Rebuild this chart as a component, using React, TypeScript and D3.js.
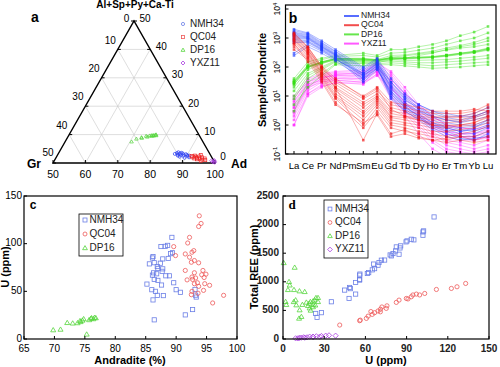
import React from "react";
import * as d3 from "d3";

const FONT = "'Liberation Sans', Arial, Helvetica, sans-serif";

// ---------- Panel a: ternary (Ad %, Al+Sp+Py+Ca-Ti %) ----------
const TERN_NMH34: [number, number][] = [
  [86, 3.2], [86.5, 3.5], [87, 3], [87.5, 3.3], [88, 2.8], [88.3, 3.4], [88.8, 3], [89, 2.5], [89.5, 3.1],
  [90, 2.8], [90.3, 2.4], [90.8, 2.6], [91, 2], [88, 2.2], [87.2, 2.6], [89.7, 1.8], [86.8, 3.8], [87.8, 3.6],
];
const TERN_QC04: [number, number][] = [
  [91.5, 2.5], [92, 2], [92.5, 2.6], [93, 2.2], [93.5, 1.8], [94, 2.3], [94.5, 1.5], [95, 2], [95.5, 1.2],
  [96, 1.6], [96.5, 1], [93.8, 1.3], [92.8, 1.6], [94.2, 2.8], [95.2, 0.8],
];
const TERN_DP16: [number, number][] = [
  [70.5, 7.5], [71.5, 8.5], [72.8, 9], [74, 9.5], [75, 9.6], [75.5, 9.7], [76, 9.8], [76.3, 9.6], [76.6, 9.9],
  [77, 9.7], [76.8, 10], [75.8, 9.5], [74.5, 9.2], [73, 8.8],
];
const TERN_YXZ11: [number, number][] = [
  [98.5, 0.8], [99, 0.5], [99.3, 0.3], [99.6, 0.6], [99.8, 0.2], [99.2, 1],
];
const TERN_BOTTOM_TICKS = [50, 60, 70, 80, 90, 100];
const TERN_SIDE_TICKS = [0, 10, 20, 30, 40, 50];

// ---------- Panel b: REE patterns (sample/chondrite) ----------
const REE = ["La", "Ce", "Pr", "Nd", "Pm", "Sm", "Eu", "Gd", "Tb", "Dy", "Ho", "Er", "Tm", "Yb", "Lu"];
type Row = (number | null)[];
const REE_NMH34: Row[] = [
  [2000, 1500, 800, 400, null, 100, 200, 40, 12, 5, 3, 2, 2, 2, 3],
  [1800, 1400, 700, 350, null, 90, 180, 30, 9, 4, 2, 1.5, 1.2, 1.5, 2],
  [1600, 1300, 650, 330, null, 80, 160, 25, 8, 3.5, 1.8, 1.2, 1, 1, 1.5],
  [1500, 1200, 600, 300, null, 70, 150, 20, 6, 3, 1.5, 1, 0.8, 0.9, 1.2],
  [1400, 1100, 560, 280, null, 60, 140, 18, 5, 2.5, 1.2, 0.8, 0.6, 0.7, 1],
  [1300, 1050, 520, 270, null, 55, 130, 15, 4.5, 2, 1, 0.7, 0.5, 0.5, 0.8],
  [1200, 1000, 500, 260, null, 50, 120, 12, 4, 2, 0.9, 0.6, 0.4, 0.4, 0.6],
  [1100, 950, 480, 250, null, 45, 110, 10, 3.5, 1.8, 0.8, 0.5, 0.35, 0.3, 0.5],
  [1000, 900, 450, 240, null, 40, 100, 9, 3, 1.5, 0.7, 0.4, 0.3, 0.35, 0.4],
  [900, 800, 420, 220, null, 35, 90, 8, 3, 1.6, 1, 0.8, 0.6, 0.8, 1.5],
  [800, 750, 400, 200, null, 30, 80, 14, 5, 3, 2, 1.5, 1.3, 1.8, 2.5],
  [700, 700, 380, 190, null, 50, 110, 22, 7, 4, 2.5, 1.8, 1.5, 2, 3],
  [300, 600, 350, 180, null, 60, 130, 30, 10, 5, 3, 2.5, 2, 2.5, 4],
  [250, 500, 300, 160, null, 40, 90, 12, 4, 2.2, 1.2, 0.9, 0.7, 0.6, 0.9],
];
const REE_QC04: Row[] = [
  [1500, 500, 100, 30, null, 8, 15, 5, 4, 3, 2.5, 2.5, 2.5, 3, 5],
  [1300, 450, 90, 25, null, 6, 12, 4, 3, 2.5, 2, 2, 2, 2.5, 4],
  [1200, 400, 80, 20, null, 5, 10, 3, 2.5, 2, 1.8, 1.8, 1.8, 2, 3],
  [1000, 350, 70, 18, null, 4, 9, 2.5, 2, 1.8, 1.5, 1.5, 1.5, 1.8, 2.5],
  [900, 300, 60, 15, null, 3, 8, 2, 1.8, 1.5, 1.2, 1.2, 1.3, 1.5, 2],
  [800, 280, 55, 12, null, 2.5, 7, 1.8, 1.5, 1.2, 1, 1, 1, 1.2, 1.8],
  [700, 250, 50, 10, null, 2, 6, 1.5, 1.2, 1, 0.8, 0.8, 0.9, 1, 1.5],
  [600, 220, 45, 9, null, 1.5, 5, 1.2, 1, 0.8, 0.6, 0.6, 0.7, 0.8, 1.2],
  [500, 200, 40, 8, null, 1, 4, 1, 0.8, 0.6, 0.5, 0.4, 0.5, 0.6, 0.9],
  [400, 180, 35, 6, null, 0.8, 3, 0.8, 0.6, 0.5, 0.4, 0.3, 0.4, 0.4, 0.6],
  [1100, 380, 95, 35, null, 10, 20, 6, 5, 4, 3, 3, 3, 3.5, 3],
  [850, 320, 65, 20, null, 0.3, 2.5, 0.5, 0.7, 0.4, 0.3, 0.35, 0.4, 0.3, 0.4],
  [650, 150, 30, 5, null, 1.2, 2.2, 0.4, 0.5, 0.35, 0.3, 0.25, 0.3, 0.25, 0.3],
  [1400, 480, 110, 40, null, 9, 18, 3.5, 2, 1.5, 1, 0.9, 1, 1.2, 2],
];
const REE_DP16: Row[] = [
  [40, 150, 200, 250, null, 300, 250, 400, 400, 500, 600, 800, 1200, 1600, 2500],
  [30, 120, 180, 230, null, 250, 220, 300, 320, 380, 450, 600, 800, 1000, 1500],
  [25, 100, 150, 200, null, 200, 180, 250, 260, 300, 350, 450, 550, 700, 1000],
  [35, 110, 150, 200, null, 190, 180, 210, 210, 220, 230, 260, 300, 350, 450],
  [30, 105, 145, 190, null, 185, 175, 200, 200, 210, 220, 250, 290, 330, 420],
  [28, 100, 140, 185, null, 180, 170, 195, 195, 205, 215, 240, 280, 320, 400],
  [25, 95, 135, 180, null, 175, 165, 190, 190, 200, 210, 235, 270, 310, 380],
  [32, 98, 142, 195, null, 190, 172, 205, 205, 215, 225, 255, 300, 340, 430],
  [20, 80, 130, 180, null, 160, 160, 180, 170, 170, 175, 180, 200, 220, 250],
  [15, 60, 100, 170, null, 150, 150, 160, 150, 140, 140, 150, 160, 180, 200],
  [8, 40, 80, 150, null, 130, 130, 140, 130, 120, 110, 120, 130, 140, 150],
  [5, 20, 50, 120, null, 110, 120, 120, 110, 100, 90, 95, 100, 110, 120],
  [3, 30, 60, 130, null, 140, 140, 180, 200, 250, 300, 400, 500, 600, 800],
  [10, 50, 90, 160, null, 170, 160, 220, 240, 280, 320, 380, 450, 500, 600],
];
const REE_YXZ11: Row[] = [
  [8, 40, 60, 70, null, 80, 150, 60, 15, 4, 1.5, 0.8, 0.6, 0.5, 0.6],
  [6, 35, 55, 65, null, 70, 130, 50, 12, 3.5, 1.2, 0.6, 0.5, 0.4, 0.5],
  [5, 30, 50, 60, null, 60, 120, 40, 10, 3, 1, 0.5, 0.4, 0.35, 0.4],
  [4, 25, 45, 55, null, 50, 110, 30, 8, 2.5, 0.8, 0.4, 0.3, 0.3, 0.35],
  [3, 20, 40, 50, null, 45, 100, 25, 6, 2, 0.6, 0.3, 0.25, 0.2, 0.3],
  [2.5, 18, 35, 45, null, 40, 90, 20, 5, 1.5, 0.5, 0.25, 0.2, 0.15, 0.2],
  [2, 15, 30, 40, null, 35, 80, 15, 4, 1.2, 0.4, 0.2, 0.15, 0.12, 0.15],
  [1.5, 12, 25, 35, null, 30, 70, 12, 3, 1, 0.3, 0.15, 0.12, 0.1, 0.12],
  [1, 10, 20, 30, null, 25, 60, 10, 2.5, 0.8, 0.25, 0.12, 0.1, 0.08, 0.1],
  [10, 30, 45, 50, null, 55, 90, 35, 12, 5, 2, 1, 0.8, 0.7, 1],
  [7, 25, 35, 40, null, 40, 70, 20, 6, 2, 0.8, 0.5, 0.4, 0.3, 0.4],
  [4, 20, 30, 35, null, 30, 55, 8, 2, 0.5, 0.15, 0.08, 0.06, 0.05, 0.06],
  [1, 12, 22, 28, null, 28, 50, 18, 6, 2.5, 1, 0.6, 0.5, 0.5, 0.7],
  [3, 22, 40, 55, null, 65, 140, 70, 20, 5, 2, 1, 0.8, 0.7, 0.8],
];
const REE_DECADES = [-1, 0, 1, 2, 3, 4];

// ---------- Panel c: Andradite (%) vs U (ppm) ----------
const C_NMH34: [number, number][] = [
  [89.3, 106.6], [87.5, 97], [88.2, 97.2], [88.6, 98.2], [89.1, 89.5], [89.4, 90.5], [86.2, 86.5], [86.1, 85],
  [87.8, 84], [85.6, 78.8], [86.4, 80], [86.9, 76], [87, 74], [87.8, 73.6], [86.3, 69.4], [86.8, 68.4],
  [88.3, 66.3], [88.9, 66.3], [86.4, 62.5], [87, 61.5], [89.6, 59], [85.2, 57.6], [87.6, 56.6], [86, 51.7],
  [86.6, 50], [90, 51.7], [90.7, 49], [86.9, 45.8], [86.2, 41], [87.9, 45.5], [93.1, 52], [93.2, 46],
  [93.3, 44], [91.5, 25.3], [92.7, 30.9], [86.4, 20.1], [87.7, 71], [87.4, 79.5], [88.7, 84.5], [86.1, 67],
];
const C_QC04: [number, number][] = [
  [93.8, 129.2], [94.1, 121.2], [93.7, 118], [92.2, 106.6], [91.9, 100.7], [89.6, 96.9], [89.9, 87.5],
  [91.5, 89.2], [92.6, 91], [92.9, 92.7], [92.2, 85.8], [93, 82.3], [93.7, 79.9], [92.5, 80.5], [94.4, 71.9],
  [91.5, 71.9], [94.2, 67.4], [93, 69.5], [92.6, 65], [93.2, 64], [92.7, 62.5], [93.5, 59], [91.8, 62],
  [93, 58], [93.7, 55.2], [94.7, 58], [95.5, 56.3], [94.5, 51], [92.6, 50], [92.5, 46.5], [93.6, 48],
  [96, 37.8], [97.8, 45.8], [94.6, 64.5], [94.9, 68],
];
const C_DP16: [number, number][] = [
  [69.8, 9.4], [71, 10], [72.1, 17], [73, 16.5], [73.8, 16.8], [74.2, 19], [74.6, 19.5], [74.8, 21],
  [75.7, 20], [76, 21.5], [76.1, 22], [76.4, 21], [76.6, 22.5], [76.8, 22], [75.3, 4.9], [74.3, 18],
];
const C_XTICKS = [65, 70, 75, 80, 85, 90, 95, 100];
const C_YTICKS = [0, 50, 100, 150];

// ---------- Panel d: U (ppm) vs Total REE (ppm) ----------
const D_NMH34: [number, number][] = [
  [23.8, 447], [28, 460], [24.8, 378], [35.2, 651], [44.9, 855], [48.5, 901], [49, 880], [48.1, 709],
  [52.9, 785], [52.9, 988], [55.8, 1040], [55.8, 1030], [55.8, 1116], [56, 1135], [61.4, 1145], [62.4, 1160],
  [65, 1209], [66.7, 1230], [69.2, 1290], [69.9, 1337], [71.6, 1378], [74, 1380], [78.9, 1453], [80.1, 1494],
  [82.5, 1610], [85.2, 1592], [84.5, 1482], [85.7, 1628], [89.6, 1698], [90.3, 1715], [93.4, 1744],
  [95.3, 1733], [101.9, 1814], [101.9, 1872], [102.4, 1890], [110, 2134], [78, 1470], [66, 1310], [82, 1540],
];
const D_QC04: [number, number][] = [
  [41.3, 244], [55.8, 320], [56.3, 330], [60.7, 360], [62, 400], [65, 430], [66.7, 460], [69.2, 490],
  [70.9, 475], [75.2, 535], [75.7, 580], [82.5, 640], [84.5, 680], [89.8, 709], [93.4, 738], [94.6, 770],
  [97.1, 785], [99.5, 770], [103.2, 796], [111.7, 866], [122.6, 884], [126.7, 913], [133, 971], [64, 480],
  [71, 520], [91, 700], [72, 560],
];
const D_DP16: [number, number][] = [
  [0.5, 1331], [8.5, 1250], [4.4, 1000], [4.9, 940], [3.6, 860], [8, 860], [12, 837], [15.8, 825], [9.2, 680],
  [7.8, 650], [9.7, 593], [14.1, 600], [12.1, 506], [11.7, 360], [13.4, 390], [18.2, 581], [19, 620],
  [19.9, 651], [21.8, 660], [23, 680], [24, 720], [25.5, 721], [21.8, 560], [19.4, 540], [20.1, 500],
  [25.5, 650], [1.9, 651], [2.4, 600], [22, 600], [17, 640], [23.5, 590],
];
const D_YXZ11: [number, number][] = [
  [9.2, 12], [10.9, 12], [13.3, 23], [15.8, 23], [17.5, 29], [19.4, 41], [21.8, 41], [24.3, 47], [26.7, 41],
  [31.1, 58], [33.5, 64], [38.3, 58], [12, 20], [15, 30], [22, 35], [28, 52],
];
const D_XTICKS = [0, 30, 60, 90, 120, 150];
const D_YTICKS = [0, 500, 1000, 1500, 2000, 2500];

// ---------- colours ----------
const BLUE = "#1f3cff";
const RED = "#ee1111";
const GREEN = "#33dd11";
const MAGENTA = "#ff22ff";
const M_BLUE = "#6b7fe6";
const M_RED = "#ee5a5a";
const M_GREEN = "#55d63c";
const M_PURPLE = "#a83ce0";

type Shape = "square" | "circle" | "triangle" | "diamond";
function Marker({ x, y, shape, color, s = 2.2, sw = 0.8 }: { x: number; y: number; shape: Shape; color: string; s?: number; sw?: number }) {
  if (shape === "square") return <rect x={x - s} y={y - s} width={2 * s} height={2 * s} fill="none" stroke={color} strokeWidth={sw} />;
  if (shape === "circle") return <circle cx={x} cy={y} r={s} fill="none" stroke={color} strokeWidth={sw} />;
  if (shape === "triangle") {
    const h = s * 1.2;
    return <path d={`M${x},${y - h}L${x + h},${y + h * 0.7}L${x - h},${y + h * 0.7}Z`} fill="none" stroke={color} strokeWidth={sw} />;
  }
  const h = s * 1.25;
  return <path d={`M${x},${y - h}L${x + h},${y}L${x},${y + h}L${x - h},${y}Z`} fill="none" stroke={color} strokeWidth={sw} />;
}

// ---------- Panel a ----------
function PanelA() {
  const GR = { x: 53, y: 163 };
  const AD = { x: 215, y: 163 };
  const AP = { x: 134, y: 21 };
  const pos = (ad: number, t: number) => {
    const g = 100 - ad - t;
    const tp = t / 50, gp = g / 50, ap = (ad - 50) / 50;
    return { x: GR.x * gp + AD.x * ap + AP.x * tp, y: GR.y * gp + AD.y * ap + AP.y * tp };
  };
  const grid: { a: { x: number; y: number }; b: { x: number; y: number } }[] = [];
  [10, 20, 30, 40].forEach((v) => {
    grid.push({ a: pos(50, v), b: pos(100 - v, v) }); // const T
    grid.push({ a: pos(100 - v, 0), b: pos(50, 50 - v) }); // const Gr
  });
  [60, 70, 80, 90].forEach((a) => grid.push({ a: pos(a, 0), b: pos(a, 100 - a) })); // const Ad
  const groups: { data: [number, number][]; shape: Shape; color: string }[] = [
    { data: TERN_DP16, shape: "triangle", color: M_GREEN },
    { data: TERN_NMH34, shape: "circle", color: "#2a3cf0" },
    { data: TERN_QC04, shape: "square", color: "#ee2222" },
    { data: TERN_YXZ11, shape: "diamond", color: M_PURPLE },
  ];
  const legend: [string, Shape, string][] = [
    ["NMH34", "circle", M_BLUE],
    ["QC04", "square", M_RED],
    ["DP16", "triangle", M_GREEN],
    ["YXZ11", "diamond", M_PURPLE],
  ];
  return (
    <g>
      {grid.map((l, i) => (
        <line key={i} x1={l.a.x} y1={l.a.y} x2={l.b.x} y2={l.b.y} stroke="#c8c8c8" strokeWidth={0.6} />
      ))}
      <path d={`M${GR.x},${GR.y}L${AD.x},${AD.y}L${AP.x},${AP.y}Z`} fill="none" stroke="#000" strokeWidth={1.4} strokeLinejoin="miter" />
      {TERN_BOTTOM_TICKS.map((v) => {
        const p = pos(v, 0);
        return (
          <g key={"b" + v}>
            <line x1={p.x} y1={p.y} x2={p.x} y2={p.y - 3} stroke="#000" strokeWidth={1} />
            <text x={p.x} y={p.y + 15} textAnchor="middle" fontSize={10.5}>{v}</text>
          </g>
        );
      })}
      {TERN_SIDE_TICKS.map((v) => {
        const p = pos(50, 50 - v);
        return (
          <g key={"l" + v}>
            <line x1={p.x} y1={p.y} x2={p.x + 3} y2={p.y} stroke="#000" strokeWidth={1} />
            <text x={p.x - (v === 50 ? 5 : 7.5)} y={p.y + (v === 0 ? -2 : v === 50 ? -10 : -8.5)} textAnchor="middle" dominantBaseline="middle" fontSize={10}>{v}</text>
          </g>
        );
      })}
      {TERN_SIDE_TICKS.map((v) => {
        const p = pos(100 - v, v);
        return (
          <g key={"r" + v}>
            <line x1={p.x} y1={p.y} x2={p.x - 3} y2={p.y} stroke="#000" strokeWidth={1} />
            <text x={p.x + (v === 0 ? 8 : 11)} y={p.y - (v === 0 ? 6 : 2)} textAnchor="middle" dominantBaseline="middle" fontSize={10}>{v}</text>
          </g>
        );
      })}
      {groups.map((g, gi) =>
        g.data.map((d, i) => {
          const p = pos(d[0], d[1]);
          return <Marker key={gi + "-" + i} x={p.x} y={p.y} shape={g.shape} color={g.color} s={1.5} sw={0.7} />;
        })
      )}
      <text x={AP.x + 1} y={8} textAnchor="middle" fontSize={10} fontWeight="bold">Al+Sp+Py+Ca-Ti</text>
      <text x={35} y={22} textAnchor="middle" fontSize={14} fontWeight="bold">a</text>
      <text x={34} y={168} textAnchor="middle" fontSize={12} fontWeight="bold">Gr</text>
      <text x={239} y={168} textAnchor="middle" fontSize={12} fontWeight="bold">Ad</text>
      {legend.map(([name, shape, color], i) => (
        <g key={name}>
          <Marker x={183} y={24 + i * 13} shape={shape} color={color} s={1.6} sw={0.8} />
          <text x={190} y={24 + i * 13} dominantBaseline="middle" fontSize={10} fill="#222">{name}</text>
        </g>
      ))}
    </g>
  );
}

// ---------- Panel b ----------
function PanelB() {
  const left = 285.5, right = 496, top = 5, bottom = 154;
  const x = d3.scalePoint<string>().domain(REE).range([294, 488]);
  const y = d3.scaleLog().domain([0.1, 1e4]).range([154, 9]);
  const line = d3
    .line<{ k: string; v: number }>()
    .x((d) => x(d.k) as number)
    .y((d) => y(d.v));
  const groups: { rows: Row[]; color: string; w: number }[] = [
    { rows: REE_YXZ11, color: MAGENTA, w: 0.8 },
    { rows: REE_DP16, color: GREEN, w: 0.9 },
    { rows: REE_NMH34, color: BLUE, w: 0.9 },
    { rows: REE_QC04, color: RED, w: 0.8 },
  ];
  const legend: [string, string][] = [
    ["NMH34", BLUE],
    ["QC04", RED],
    ["DP16", GREEN],
    ["YXZ11", MAGENTA],
  ];
  return (
    <g>
      <defs>
        <clipPath id="clipB">
          <rect x={left} y={top} width={right - left} height={bottom - top} />
        </clipPath>
      </defs>
      <g clipPath="url(#clipB)">
        {groups.map((g, gi) => (
          <g key={gi}>
            {g.rows.map((r, ri) => {
              const pts = REE.map((k, i) => ({ k, v: r[i] as number })).filter((p) => p.v != null);
              return (
                <g key={ri}>
                  <path d={line(pts) || ""} fill="none" stroke={g.color} strokeOpacity={0.4} strokeWidth={g.w} />
                  {pts.map((p, pi) => (
                    <rect key={pi} x={(x(p.k) as number) - 1.3} y={y(p.v) - 1.3} width={2.6} height={2.6} fill={g.color} fillOpacity={0.65} />
                  ))}
                </g>
              );
            })}
          </g>
        ))}
      </g>
      <rect x={left} y={top} width={right - left} height={bottom - top} fill="none" stroke="#000" strokeWidth={1.2} />
      {REE.map((k) => (
        <g key={k}>
          <line x1={x(k)} x2={x(k)} y1={bottom} y2={bottom - 3} stroke="#000" strokeWidth={1} />
          <text x={x(k)} y={169} textAnchor="middle" fontSize={9.6}>{k}</text>
        </g>
      ))}
      {REE_DECADES.map((e) => (
        <g key={e}>
          <line x1={left} x2={left + 3} y1={y(Math.pow(10, e))} y2={y(Math.pow(10, e))} stroke="#000" strokeWidth={1} />
          <text transform={`translate(280,${y(Math.pow(10, e))}) rotate(-90)`} textAnchor="middle" fontSize={8.5}>
            10<tspan dy={-3.5} fontSize={6}>{e}</tspan>
          </text>
        </g>
      ))}
      <text transform="translate(266,80) rotate(-90)" textAnchor="middle" fontSize={11} fontWeight="bold">Sample/Chondrite</text>
      <text x={293} y={23} textAnchor="middle" fontSize={14} fontWeight="bold">b</text>
      {legend.map(([name, c], i) => (
        <g key={name}>
          <line x1={344} x2={359} y1={16 + i * 9.2} y2={16 + i * 9.2} stroke={c} strokeWidth={2} strokeOpacity={0.75} />
          <text x={361} y={16 + i * 9.2} dominantBaseline="middle" fontSize={8.6} fill="#222">{name}</text>
        </g>
      ))}
    </g>
  );
}

// ---------- Panel c ----------
function PanelC() {
  const left = 24, right = 237, top = 196, bottom = 339;
  const x = d3.scaleLinear().domain([65, 100]).range([left, right]);
  const y = d3.scaleLinear().domain([0, 150]).range([bottom, top]);
  const groups: { data: [number, number][]; shape: Shape; color: string }[] = [
    { data: C_NMH34, shape: "square", color: M_BLUE },
    { data: C_QC04, shape: "circle", color: M_RED },
    { data: C_DP16, shape: "triangle", color: M_GREEN },
  ];
  const legend: [string, Shape, string][] = [
    ["NMH34", "square", M_BLUE],
    ["QC04", "circle", M_RED],
    ["DP16", "triangle", M_GREEN],
  ];
  return (
    <g>
      {groups.map((g, gi) =>
        g.data.map((d, i) => <Marker key={gi + "-" + i} x={x(d[0])} y={y(d[1])} shape={g.shape} color={g.color} s={2.1} />)
      )}
      <rect x={left} y={top} width={right - left} height={bottom - top} fill="none" stroke="#000" strokeWidth={1.2} />
      {C_XTICKS.map((v) => (
        <g key={v}>
          <line x1={x(v)} x2={x(v)} y1={bottom} y2={bottom - 3} stroke="#000" />
          <text x={x(v)} y={352} textAnchor="middle" fontSize={10}>{v}</text>
        </g>
      ))}
      {C_YTICKS.map((v) => (
        <g key={v}>
          <line x1={left} x2={left + 3} y1={y(v)} y2={y(v)} stroke="#000" />
          <text x={left - 2} y={y(v)} textAnchor="end" dominantBaseline="middle" fontSize={10}>{v}</text>
        </g>
      ))}
      <text x={130} y={364} textAnchor="middle" fontSize={11} fontWeight="bold">Andradite (%)</text>
      <text transform="translate(9,267) rotate(-90)" textAnchor="middle" fontSize={11} fontWeight="bold">U (ppm)</text>
      <text x={33} y={209} textAnchor="middle" fontSize={12} fontWeight="bold">c</text>
      <rect x={79} y={214} width={44} height={42} fill="#fff" stroke="#000" strokeWidth={0.8} />
      {legend.map(([name, shape, color], i) => (
        <g key={name}>
          <Marker x={85} y={220 + i * 14} shape={shape} color={color} s={2} />
          <text x={89.5} y={220 + i * 14} dominantBaseline="middle" fontSize={10} fill="#222">{name}</text>
        </g>
      ))}
    </g>
  );
}

// ---------- Panel d ----------
function PanelD() {
  const left = 283, right = 489, top = 196, bottom = 339;
  const x = d3.scaleLinear().domain([0, 150]).range([left, right]);
  const y = d3.scaleLinear().domain([0, 2500]).range([bottom, top]);
  const groups: { data: [number, number][]; shape: Shape; color: string }[] = [
    { data: D_NMH34, shape: "square", color: M_BLUE },
    { data: D_QC04, shape: "circle", color: M_RED },
    { data: D_DP16, shape: "triangle", color: M_GREEN },
    { data: D_YXZ11, shape: "diamond", color: M_PURPLE },
  ];
  const legend: [string, Shape, string][] = [
    ["NMH34", "square", M_BLUE],
    ["QC04", "circle", M_RED],
    ["DP16", "triangle", M_GREEN],
    ["YXZ11", "diamond", M_PURPLE],
  ];
  return (
    <g>
      {groups.map((g, gi) =>
        g.data.map((d, i) => <Marker key={gi + "-" + i} x={x(d[0])} y={y(d[1])} shape={g.shape} color={g.color} s={2.1} />)
      )}
      <rect x={left} y={top} width={right - left} height={bottom - top} fill="none" stroke="#000" strokeWidth={1.2} />
      {D_XTICKS.map((v) => (
        <g key={v}>
          <line x1={x(v)} x2={x(v)} y1={bottom} y2={bottom - 3} stroke="#000" />
          <text x={x(v)} y={352} textAnchor="middle" fontSize={10} fontWeight="bold" fill="#222">{v}</text>
        </g>
      ))}
      {D_YTICKS.map((v) => (
        <g key={v}>
          <line x1={left} x2={left + 3} y1={y(v)} y2={y(v)} stroke="#000" />
          <text x={left - 4} y={y(v)} textAnchor="end" dominantBaseline="middle" fontSize={10} fontWeight="bold" fill="#222">{v}</text>
        </g>
      ))}
      <text x={386} y={364} textAnchor="middle" fontSize={11} fontWeight="bold">U (ppm)</text>
      <text transform="translate(258,267) rotate(-90)" textAnchor="middle" fontSize={11} fontWeight="bold">Total REE (ppm)</text>
      <text x={292} y={209} textAnchor="middle" fontSize={13} fontWeight="bold" fontFamily="'Liberation Serif', 'Times New Roman', serif">d</text>
      <rect x={324} y={200} width={44} height={58} fill="#fff" stroke="#000" strokeWidth={0.8} />
      {legend.map(([name, shape, color], i) => (
        <g key={name}>
          <Marker x={330} y={209 + i * 13.5} shape={shape} color={color} s={1.9} />
          <text x={335} y={209 + i * 13.5} dominantBaseline="middle" fontSize={10} fill="#222">{name}</text>
        </g>
      ))}
    </g>
  );
}

export default function App() {
  return (
    <svg
      width={500}
      height={367}
      viewBox="0 0 500 367"
      style={{ position: "absolute", left: 0, top: 0, background: "#fff", fontFamily: FONT }}
    >
      <rect width={500} height={367} fill="#fff" />
      <PanelA />
      <PanelB />
      <PanelC />
      <PanelD />
    </svg>
  );
}
